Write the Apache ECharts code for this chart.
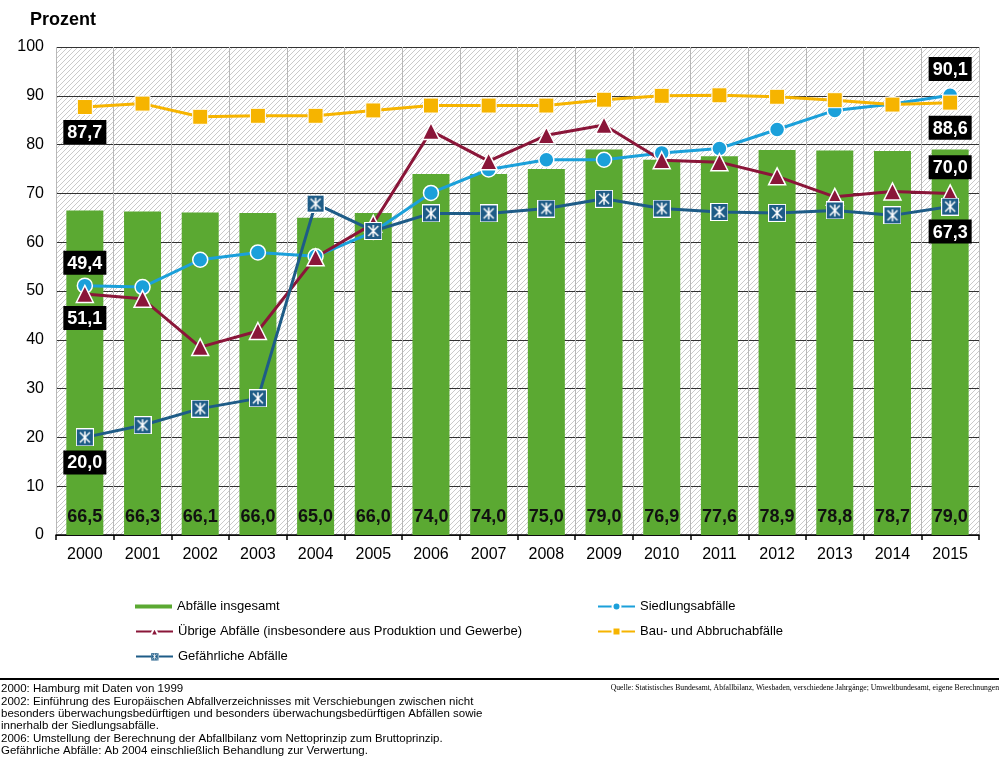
<!DOCTYPE html>
<html>
<head>
<meta charset="utf-8">
<script src="https://cdn.jsdelivr.net/npm/echarts@6/dist/echarts.min.js"></script>
<style>
  html, body { margin: 0; padding: 0; background: #fff; }
  #main { width: 999px; height: 762px; }
</style>
</head>
<body>
<div id="main"></div>
<script>
// Daten (Verwertungsquoten in Prozent)
const jahre = ['2000', '2001', '2002', '2003', '2004', '2005', '2006', '2007', '2008', '2009', '2010', '2011', '2012', '2013', '2014', '2015'];
const abfaelleInsgesamt = [66.5, 66.3, 66.1, 66.0, 65.0, 66.0, 74.0, 74.0, 75.0, 79.0, 76.9, 77.6, 78.9, 78.8, 78.7, 79.0];
const siedlungsabfaelle = [51.1, 50.8, 56.4, 57.9, 57.1, 62.1, 70.1, 74.9, 76.9, 76.9, 78.3, 79.2, 83.1, 87.0, 88.3, 90.1];
const uebrigeAbfaelle = [49.4, 48.4, 38.5, 41.8, 56.9, 63.8, 82.8, 76.6, 81.9, 84.0, 76.8, 76.4, 73.5, 69.3, 70.4, 70.0];
const bauAbbruch = [87.7, 88.4, 85.7, 85.9, 85.9, 87.0, 88.0, 88.0, 88.0, 89.2, 90.0, 90.1, 89.8, 89.1, 88.2, 88.6];
const gefaehrlicheAbfaelle = [20.0, 22.5, 25.9, 28.0, 67.9, 62.3, 65.9, 65.9, 66.9, 68.9, 66.9, 66.2, 66.0, 66.5, 65.5, 67.3];

const fussnoten = [
  '2000: Hamburg mit Daten von 1999',
  '2002: Einführung des Europäischen Abfallverzeichnisses mit Verschiebungen zwischen nicht',
  'besonders überwachungsbedürftigen und besonders überwachungsbedürftigen Abfällen sowie',
  'innerhalb der Siedlungsabfälle.',
  '2006: Umstellung der Berechnung der Abfallbilanz vom Nettoprinzip zum Bruttoprinzip.',
  'Gefährliche Abfälle: Ab 2004 einschließlich Behandlung zur Verwertung.'
];
const quelle = 'Quelle: Statistisches Bundesamt, Abfallbilanz, Wiesbaden, verschiedene Jahrgänge; Umweltbundesamt, eigene Berechnungen';

const FONT = "'Liberation Sans', Arial, sans-serif";
const GRUEN = '#5ba932', HELLBLAU = '#1ba0da', BORDEAUX = '#8a1639', GELB = '#f6b400', DUNKELBLAU = '#1e5c87';

const fmt = v => v.toFixed(1).replace('.', ',');

// schraffierter Hintergrund
function schraffur() {
  const c = document.createElement('canvas');
  c.width = 5; c.height = 5;
  const g = c.getContext('2d');
  g.fillStyle = '#fff';
  g.fillRect(0, 0, 5, 5);
  g.strokeStyle = '#cacaca';
  g.lineWidth = 1;
  g.beginPath();
  g.moveTo(-1, 6); g.lineTo(6, -1);
  g.moveTo(-1, 1); g.lineTo(1, -1);
  g.moveTo(4, 6); g.lineTo(6, 4);
  g.stroke();
  return c;
}

// Marker für gefährliche Abfälle: Quadrat mit weißem Stern
function sternMarker() {
  const c = document.createElement('canvas');
  c.width = 36; c.height = 36;
  const g = c.getContext('2d');
  g.fillStyle = '#fff';
  g.fillRect(0, 0, 36, 36);
  g.fillStyle = DUNKELBLAU;
  g.fillRect(2, 2, 32, 32);
  g.strokeStyle = '#fff';
  g.lineWidth = 3;
  g.beginPath();
  g.moveTo(18, 6); g.lineTo(18, 30);
  g.moveTo(8, 8); g.lineTo(28, 28);
  g.moveTo(28, 8); g.lineTo(8, 28);
  g.stroke();
  return 'image://' + c.toDataURL();
}

const boxLabel = {
  show: true,
  backgroundColor: '#000',
  color: '#fff',
  fontFamily: FONT,
  fontSize: 18,
  fontWeight: 'bold',
  padding: [4, 4, 2, 4],
  formatter: p => fmt(p.value)
};

function mitLabels(werte, erstes, letztes) {
  return werte.map((v, i) => {
    let pos = null;
    if (i === 0) pos = erstes;
    if (i === werte.length - 1) pos = letztes;
    if (!pos) return v;
    return { value: v, label: Object.assign({}, boxLabel, pos) };
  });
}

const chart = echarts.init(document.getElementById('main'));

function legende(name, left, mitte, icon, hoehe) {
  return {
    left: left,
    top: mitte - 7,
    padding: 0,
    itemWidth: 37,
    itemHeight: hoehe,
    data: [icon ? { name: name, icon: icon } : name],
    textStyle: { fontFamily: FONT, fontSize: 13, color: '#000' },
    selectedMode: false
  };
}

const option = {
  animation: false,
  textStyle: { fontFamily: FONT },
  grid: {
    left: 56, right: 20, top: 47, bottom: 227,
    show: true,
    borderWidth: 0,
    backgroundColor: { image: schraffur(), repeat: 'repeat' }
  },
  legend: [
    legende('Abfälle insgesamt', 135, 607, 'rect', 4),
    legende('Übrige Abfälle (insbesondere aus Produktion und Gewerbe)', 135, 632, null, 10),
    legende('Gefährliche Abfälle', 135, 657, null, 10),
    legende('Siedlungsabfälle', 597, 607, null, 10),
    legende('Bau- und Abbruchabfälle', 597, 632, null, 10)
  ],
  xAxis: {
    type: 'category',
    data: jahre,
    boundaryGap: true,
    axisLine: { lineStyle: { color: '#000', width: 1.5 } },
    axisTick: { show: true, length: 5, lineStyle: { color: '#000', width: 1.5 } },
    axisLabel: { fontSize: 16, color: '#000', margin: 12, fontFamily: FONT },
    splitLine: { show: true, lineStyle: { color: '#b8b8b8', width: 1 } }
  },
  yAxis: {
    type: 'value',
    min: 0, max: 100, interval: 10,
    axisLine: { show: false },
    axisTick: { show: false },
    axisLabel: { fontSize: 16, color: '#000', margin: 12, fontFamily: FONT },
    splitLine: { lineStyle: { color: '#333', width: 1 } }
  },
  graphic: [
    { type: 'text', left: 30, top: 11, style: { text: 'Prozent', font: "bold 18px 'Liberation Sans', Arial, sans-serif", fill: '#000' } },
    { type: 'line', shape: { x1: 0, y1: 679, x2: 999, y2: 679 }, style: { stroke: '#000', lineWidth: 2 } },
    { type: 'text', x: 1, y: 683, style: { text: fussnoten.join('\n'), font: "11.5px 'Liberation Sans', Arial, sans-serif", lineHeight: 12.3, fill: '#000' } },
    { type: 'text', x: 999, y: 684, style: { text: quelle, font: "7.7px 'Liberation Serif', 'Times New Roman', serif", fill: '#000', align: 'right' } }
  ],
  series: [
    {
      name: 'Abfälle insgesamt',
      type: 'bar',
      data: abfaelleInsgesamt,
      barWidth: 37,
      itemStyle: { color: GRUEN },
      label: {
        show: true,
        position: 'insideBottom',
        distance: 9,
        color: '#111',
        fontSize: 18,
        fontWeight: 'bold',
        fontFamily: FONT,
        formatter: p => fmt(p.value)
      }
    },
    {
      name: 'Siedlungsabfälle',
      type: 'line',
      data: mitLabels(siedlungsabfaelle, { position: 'bottom', distance: 12 }, { position: 'top', distance: 6 }),
      symbol: 'circle',
      symbolSize: 15,
      lineStyle: { color: HELLBLAU, width: 3 },
      itemStyle: { color: HELLBLAU, borderColor: '#fff', borderWidth: 1.5 }
    },
    {
      name: 'Übrige Abfälle (insbesondere aus Produktion und Gewerbe)',
      type: 'line',
      data: mitLabels(uebrigeAbfaelle, { position: 'top', distance: 10 }, { position: 'top', distance: 5 }),
      symbol: 'triangle',
      symbolSize: 17,
      lineStyle: { color: BORDEAUX, width: 3 },
      itemStyle: { color: BORDEAUX, borderColor: '#fff', borderWidth: 1.5 }
    },
    {
      name: 'Bau- und Abbruchabfälle',
      type: 'line',
      data: mitLabels(bauAbbruch, { position: 'bottom', distance: 5 }, { position: 'bottom', distance: 5 }),
      symbol: 'rect',
      symbolSize: 15,
      lineStyle: { color: GELB, width: 3 },
      itemStyle: { color: GELB, borderColor: '#fff', borderWidth: 1 }
    },
    {
      name: 'Gefährliche Abfälle',
      type: 'line',
      data: mitLabels(gefaehrlicheAbfaelle, { position: 'bottom', distance: 4 }, { position: 'bottom', distance: 4 }),
      symbol: sternMarker(),
      symbolSize: 18,
      lineStyle: { color: DUNKELBLAU, width: 3 },
      itemStyle: { color: DUNKELBLAU }
    }
  ]
};

chart.setOption(option);
</script>
</body>
</html>
